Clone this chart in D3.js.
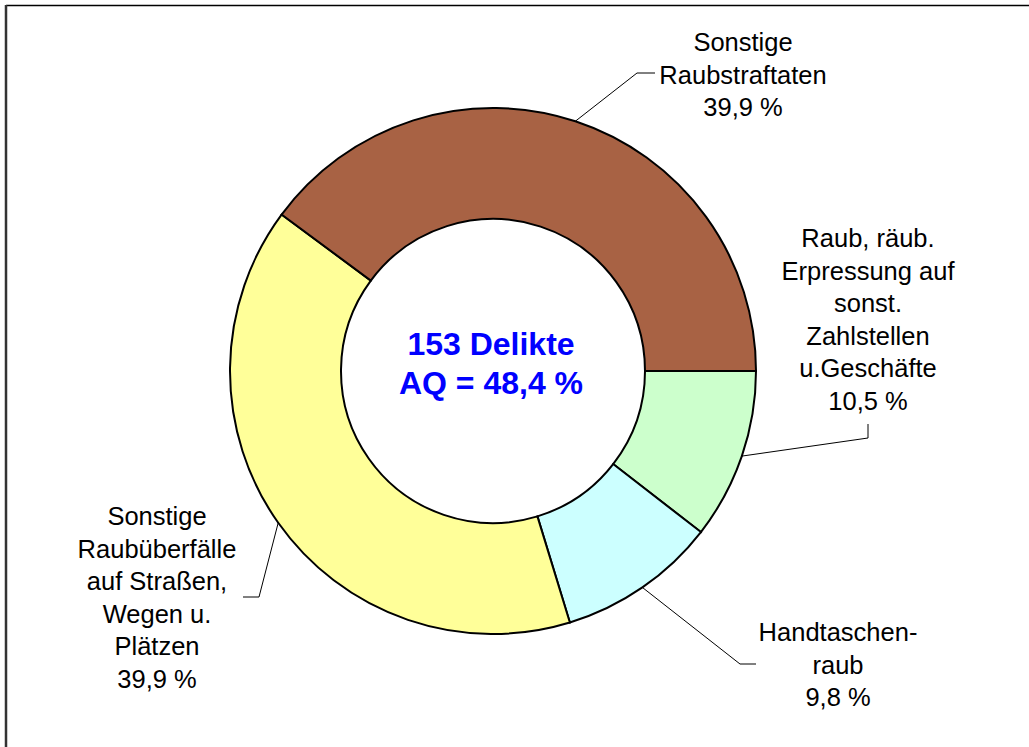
<!DOCTYPE html>
<html lang="de">
<head>
    <meta charset="UTF-8">
    <title>Raubdelikte</title>
    <script src="https://cdnjs.cloudflare.com/ajax/libs/d3/7.9.0/d3.min.js"></script>
    <style>
        body { margin: 0; background: #fff; }
        svg { display: block; }
    </style>
</head>
<body>
    <svg width="1029" height="747"></svg>

    <script>
        // Data: share of offences (percent), clockwise from 3 o'clock
        let categories = [
            ["Raub, räub.", "Erpressung auf", "sonst.", "Zahlstellen", "u.Geschäfte"],
            ["Handtaschen-", "raub"],
            ["Sonstige", "Raubüberfälle", "auf Straßen,", "Wegen u.", "Plätzen"],
            ["Sonstige", "Raubstraftaten"]
        ];
        let values = [10.5, 9.8, 39.9, 39.9];
        let valueLabels = ["10,5 %", "9,8 %", "39,9 %", "39,9 %"];
        let colors = ["#ccffcc", "#ccffff", "#ffff99", "#a86244"];
        let centerText = ["153 Delikte", "AQ = 48,4 %"];

        let svg = d3.select("svg");

        // frame (only top and left edge visible)
        svg.append("line").attr("x1", 6).attr("x2", 1029).attr("y1", 5.5).attr("y2", 5.5)
            .attr("stroke", "#000").attr("stroke-width", 1.5);
        svg.append("line").attr("x1", 6).attr("x2", 6).attr("y1", 5).attr("y2", 747)
            .attr("stroke", "#333").attr("stroke-width", 2.5);

        let cx = 493, cy = 371;
        let outerR = 263, innerR = 152;

        let pie = d3.pie()
            .sort(null)
            .startAngle(Math.PI / 2)
            .endAngle(Math.PI / 2 + 2 * Math.PI);

        let arcs = pie(values);

        let arc = d3.arc().innerRadius(innerR).outerRadius(outerR);

        let g = svg.append("g").attr("transform", `translate(${cx},${cy})`);

        g.selectAll("path")
            .data(arcs)
            .enter()
            .append("path")
            .attr("d", arc)
            .attr("fill", (d, i) => colors[i])
            .attr("stroke", "#000")
            .attr("stroke-width", 2);

        // label placement: text centre x, first line y, leader bend points (relative to page)
        let labelLayout = [
            { x: 868, y: 247, bend: [[868, 438], [868, 424]] },
            { x: 838, y: 641, bend: [[740, 664], [756, 664]] },
            { x: 157, y: 525, bend: [[259, 597], [243, 597]] },
            { x: 743, y: 51, bend: [[637, 73], [655, 73]] }
        ];
        let lineGap = 32.6;

        arcs.forEach((d, i) => {
            let mid = (d.startAngle + d.endAngle) / 2;
            let px = cx + outerR * Math.sin(mid);
            let py = cy - outerR * Math.cos(mid);
            let L = labelLayout[i];
            let pts = [[px, py]].concat(L.bend);

            svg.append("path")
                .attr("d", d3.line()(pts))
                .attr("fill", "none")
                .attr("stroke", "#000")
                .attr("stroke-width", 1);

            let lines = categories[i].concat([valueLabels[i]]);
            let t = svg.append("text")
                .attr("text-anchor", "middle")
                .attr("font-family", "Liberation Sans, Arial, sans-serif")
                .attr("font-size", "25.5px")
                .attr("fill", "#000");
            lines.forEach((s, k) => {
                t.append("tspan")
                    .attr("x", L.x)
                    .attr("y", L.y + k * lineGap)
                    .text(s);
            });
        });

        // centre text
        centerText.forEach((s, k) => {
            svg.append("text")
                .attr("text-anchor", "middle")
                .attr("font-family", "Liberation Sans, Arial, sans-serif")
                .attr("font-weight", "bold")
                .attr("font-size", "32px")
                .attr("fill", "#0000ff")
                .attr("x", 491)
                .attr("y", 355 + k * 39)
                .text(s);
        });
    </script>
</body>
</html>
